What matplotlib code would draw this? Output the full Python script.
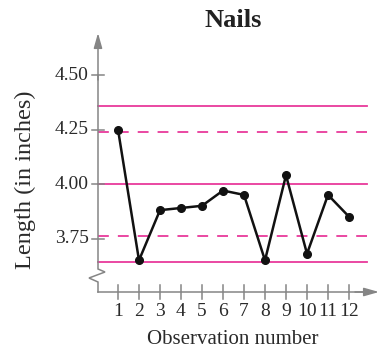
import matplotlib
matplotlib.use("Agg")
import matplotlib.pyplot as plt
from matplotlib.patches import FancyArrowPatch

# Data
observations = [1, 2, 3, 4, 5, 6, 7, 8, 9, 10, 11, 12]
lengths = [4.25, 3.65, 3.88, 3.89, 3.90, 3.97, 3.95, 3.65, 4.04, 3.68, 3.95, 3.85]
center_line = 4.00
solid_limits = [4.36, 3.64]
dashed_limits = [4.24, 3.76]
y_ticks = [3.75, 4.00, 4.25, 4.50]
y_tick_labels = ["3.75", "4.00", "4.25", "4.50"]
title = "Nails"
x_label = "Observation number"
y_label = "Length (in inches)"

plt.rcParams['font.family'] = ['Liberation Serif', 'DejaVu Serif']

W, H = 380, 353
fig = plt.figure(figsize=(W / 100, H / 100), dpi=100)
ax = fig.add_axes([0, 0, 1, 1])

# pixel -> data mapping
def px_x(p):
    return 1 + (p - 118) / 21.0

def px_y(p):
    return 4.50 - (p - 75) / 218.0

ax.set_xlim(px_x(0), px_x(W))
ax.set_ylim(px_y(H), px_y(0))
ax.axis('off')

gray = '#858585'
pink = '#e8399b'
txt = '#2a2a2a'

x0 = px_x(98)
y0 = px_y(292)
xend_line = px_x(367)

# control lines
ax.plot([x0, xend_line], [center_line] * 2, color=pink, lw=1.3)
for v in solid_limits:
    ax.plot([x0, xend_line], [v, v], color=pink, lw=1.3)
for v in dashed_limits:
    ax.plot([x0, xend_line], [v, v], color=pink, lw=1.3, dashes=(6, 5))

# y axis with break
zig_x = [x0, x0, px_x(105), px_x(89), x0, x0]
zig_y = [px_y(75), px_y(269), px_y(272), px_y(278), px_y(282), y0]
ax.plot(zig_x, zig_y, color=gray, lw=1.1, solid_joinstyle='miter')
ax.add_patch(FancyArrowPatch((x0, px_y(80)), (x0, px_y(33)), arrowstyle='-|>,head_length=6,head_width=1.7',
                             color=gray, lw=1.1, mutation_scale=1.5, shrinkA=0, shrinkB=0))
# x axis
ax.plot([x0, px_x(370)], [y0, y0], color=gray, lw=1.1)
ax.add_patch(FancyArrowPatch((px_x(355), y0), (px_x(379), y0), arrowstyle='-|>,head_length=6,head_width=1.7',
                             color=gray, lw=1.1, mutation_scale=1.5, shrinkA=0, shrinkB=0))

# y ticks
tick_half_x = 6 / 21.0
for t, lab in zip(y_ticks, y_tick_labels):
    ax.plot([x0 - tick_half_x, x0 + tick_half_x], [t, t], color=gray, lw=1.1)
    ax.text(px_x(89), t, lab, ha='right', va='center', fontsize=14, color=txt)

# x ticks
tick_half_y = 7 / 218.0
for o in observations:
    ax.plot([o, o], [y0 - tick_half_y, y0 + tick_half_y], color=gray, lw=1.1)
    ax.text(o, px_y(311), str(o), ha='center', va='center', fontsize=14, color=txt)

# data
ax.plot(observations, lengths, color='#111111', lw=1.8, marker='o', markersize=5.5,
        markerfacecolor='#111111', markeredgecolor='#111111')

# labels
ax.text(px_x(233), px_y(20), title, ha='center', va='center', fontsize=19, fontweight='bold', color='#222222')
ax.text(px_x(233), px_y(340), x_label, ha='center', va='center', fontsize=15, color=txt)
ax.text(px_x(25), px_y(180), y_label, ha='center', va='center', fontsize=17.5, rotation=90, color=txt)

fig.savefig('out.png', dpi=100)
